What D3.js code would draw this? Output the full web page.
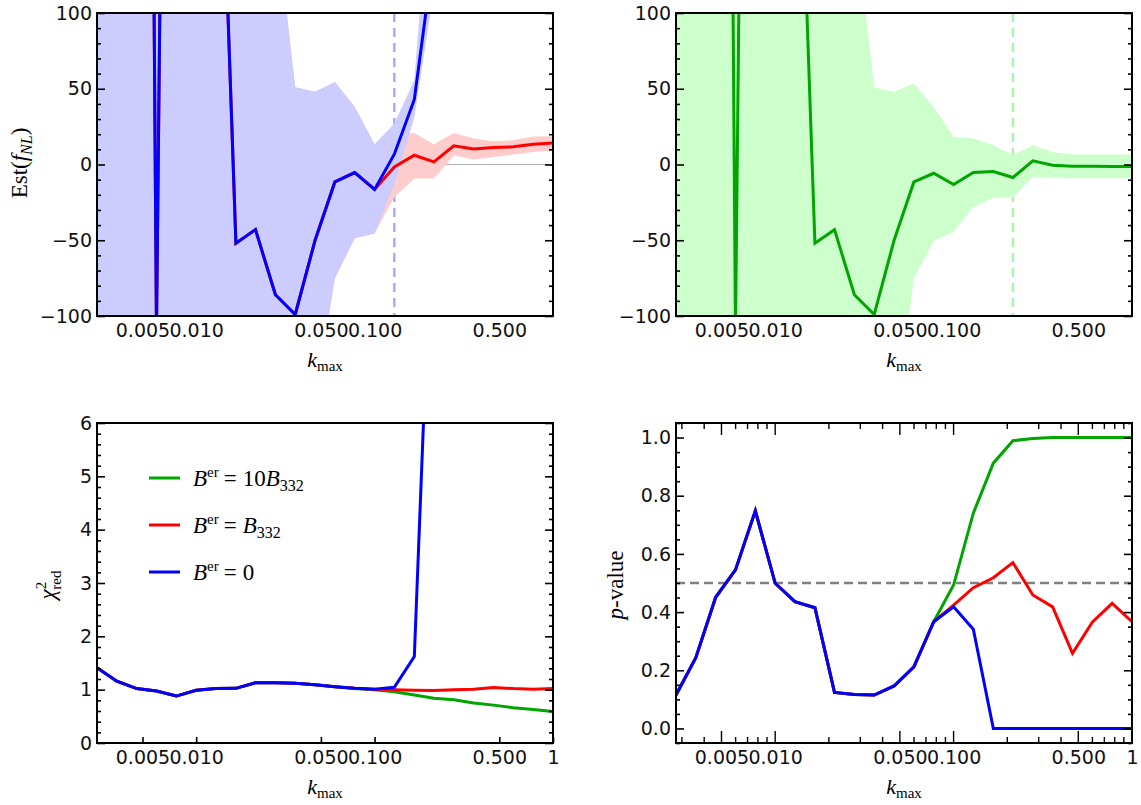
<!DOCTYPE html>
<html><head><meta charset="utf-8">
<script src="https://cdn.jsdelivr.net/npm/d3@7"></script>
<style>body{margin:0;background:#fff}svg{display:block}</style>
</head><body><svg id="c" width="1141" height="805"></svg>
<script>
// ---------- data ----------
const kmax = [0.00278,0.00359,0.00464,0.00599,0.00774,0.0100,0.0129,0.0167,0.0215,0.0278,0.0359,0.0464,
              0.0599,0.0774,0.100,0.129,0.167,0.215,0.278,0.359,0.464,0.599,0.774,1.00];

// Top-left: Est(fNL), B^er = 0 (blue) and B^er = B332 (red)
const estB0 = [900,1400,1640,-110,1140,2000,328,-52,-43,-86,-99,-50,-11.5,-5.3,-16.5,6.8,42.9,140,400,900,2000,3000,4000,5000];
const upB0  = [5000,5000,5000,5000,5000,5000,5000,5000,5000,165,51,48,54.5,38,13.4,27,55.6,220,600,1300,2600,3600,4600,5600];
const loB0  = [-5000,-5000,-5000,-5000,-5000,-5000,-5000,-5000,-5000,-500,-250,-156,-75,-48.7,-45.5,-13,31,115,250,600,1500,2500,3500,4500];
const estB1 = [900,1400,1640,-110,1140,2000,328,-52,-43,-86,-99,-50,-11.5,-5.3,-16.5,-1.6,6.1,1.7,12.3,10.3,11.2,11.7,13.4,14.2];
const upB1  = [5000,5000,5000,5000,5000,5000,5000,5000,5000,165,51,48,54.5,38,13.4,20,20.8,13.4,20.8,17.1,15.4,16,18.5,18.7];
const loB1  = [-5000,-5000,-5000,-5000,-5000,-5000,-5000,-5000,-5000,-500,-250,-156,-75,-48.7,-45.5,-21.5,-9.2,-9.2,6.1,3.3,5,6.6,8.3,9];
// Top-right: B^er = 10 B332 (green)
const estB10 = [900,1400,1640,-110,1140,2000,328,-52,-43,-86,-99,-50,-11.5,-5.8,-13.2,-5.3,-4.6,-8.6,2.4,-0.5,-1.1,-1.2,-1.3,-1.3];
const upB10  = [5000,5000,5000,5000,5000,5000,5000,5000,5000,165,50.8,47.9,53.6,38,18.2,17.1,12.7,6.1,12.7,8.3,6.6,6.6,6.6,6.6];
const loB10  = [-5000,-5000,-5000,-5000,-5000,-5000,-5000,-5000,-5000,-500,-250,-180,-75.2,-50.4,-44.4,-28,-22,-22,-8.2,-8.6,-9,-9,-9,-9];

// Bottom-left: reduced chi2
const chiB10 = [1.41,1.16,1.02,0.975,0.88,0.99,1.02,1.025,1.13,1.13,1.12,1.09,1.055,1.02,1.0,0.96,0.9,0.84,0.81,0.75,0.71,0.66,0.63,0.59];
const chiB1  = [1.41,1.16,1.02,0.975,0.88,0.99,1.02,1.025,1.13,1.13,1.12,1.09,1.055,1.025,1.01,1.0,0.99,0.985,1.0,1.01,1.04,1.02,1.01,1.02];
const chiB0  = [1.41,1.16,1.02,0.975,0.88,0.99,1.02,1.025,1.13,1.13,1.12,1.09,1.055,1.025,1.01,1.045,1.62,11,40,80,150,200,250,300];

// Bottom-right: p-value
const pB10 = [0.115,0.243,0.451,0.545,0.748,0.499,0.436,0.415,0.124,0.117,0.115,0.146,0.212,0.367,0.493,0.74,0.912,0.989,0.997,1,1,1,1,1];
const pB1  = [0.115,0.243,0.451,0.545,0.748,0.499,0.436,0.415,0.124,0.117,0.115,0.146,0.212,0.367,0.424,0.484,0.518,0.57,0.459,0.418,0.258,0.365,0.43,0.367];
const pB0  = [0.115,0.243,0.451,0.545,0.748,0.499,0.436,0.415,0.124,0.117,0.115,0.146,0.212,0.367,0.418,0.341,0,0,0,0,0,0,0,0];

// ticks
const xTickVals = [0.005,0.01,0.05,0.1,0.5];
const xTickLabs = ["0.005","0.010","0.050","0.100","0.500"];
const xTickValsB = [0.005,0.01,0.05,0.1,0.5,1];
const xTickLabsB = ["0.005","0.010","0.050","0.100","0.500","1"];
const yEstTicks = [-100,-50,0,50,100];
const yEstLabs = ["\u2212100","\u221250","0","50","100"];
const yChiTicks = [0,1,2,3,4,5,6];
const yPTicks = [0,0.2,0.4,0.6,0.8,1.0];
const yPLabs = ["0.0","0.2","0.4","0.6","0.8","1.0"];
const refK_TL = 0.129, refK_TR = 0.215;
const pThreshold = 0.5;

// ---------- drawing ----------
const svg = d3.select("#c");
const BLUE="#0000ff", RED="#ff0000", GREEN="#00a500";
const TICKFONT = "DejaVu Sans, sans-serif";
const TFS = 19;
const SERIF = "Liberation Serif, DejaVu Serif, serif";
const kDomain = [kmax[0], kmax[kmax.length-1]];

function makePanel(id, box, yDomain) {
  const x = d3.scaleLog().domain(kDomain).range([box.L, box.R]);
  const y = d3.scaleLinear().domain(yDomain).range([box.B, box.T]);
  svg.append("clipPath").attr("id", id).append("rect")
    .attr("x", box.L).attr("y", box.T).attr("width", box.R-box.L).attr("height", box.B-box.T);
  const g = svg.append("g");
  const plot = g.append("g").attr("clip-path", `url(#${id})`);
  return {x, y, g, plot, box};
}
function frame(P){
  P.g.append("rect").attr("x",P.box.L).attr("y",P.box.T).attr("width",P.box.R-P.box.L).attr("height",P.box.B-P.box.T)
   .attr("fill","none").attr("stroke","#000").attr("stroke-width",2);
}
function yAxes(P, major, labels, minor){
  const {x,y,box} = P;
  const left = d3.axisLeft(y).tickValues(major).tickSize(-8).tickPadding(5).tickFormat((d,i)=>labels[i]);
  const gl = P.g.append("g").attr("transform",`translate(${box.L},0)`).call(left);
  const lm = d3.axisLeft(y).tickValues(minor).tickSize(-4).tickFormat("");
  const glm = P.g.append("g").attr("transform",`translate(${box.L},0)`).call(lm);
  const right = d3.axisRight(y).tickValues(major).tickSize(-8).tickFormat("");
  const gr = P.g.append("g").attr("transform",`translate(${box.R},0)`).call(right);
  const rm = d3.axisRight(y).tickValues(minor).tickSize(-4).tickFormat("");
  const grm = P.g.append("g").attr("transform",`translate(${box.R},0)`).call(rm);
  [gl,glm,gr,grm].forEach(a=>{a.select(".domain").remove(); a.selectAll("line").attr("stroke","#000").attr("stroke-width",1.6);});
  gl.selectAll("text").attr("font-family",TICKFONT).attr("font-size",TFS).attr("fill","#111");
}
function xLabels(P, vals, labs, ticks){
  const {x,box} = P;
  const ax = d3.axisBottom(x).tickValues(vals).tickSize(ticks?-6:0).tickPadding(8).tickFormat((d,i)=>labs[i]);
  const ga = P.g.append("g").attr("transform",`translate(0,${box.B})`).call(ax);
  ga.select(".domain").remove();
  ga.selectAll("line").attr("stroke","#000").attr("stroke-width",1.6);
  ga.selectAll("text").attr("font-family",TICKFONT).attr("font-size",TFS).attr("fill","#111");
}
function kTitle(P){
  const t = P.g.append("text").attr("x",(P.box.L+P.box.R)/2).attr("y",P.box.B+51)
    .attr("text-anchor","middle").attr("font-family",SERIF).attr("font-size",22);
  t.append("tspan").attr("font-style","italic").text("k");
  t.append("tspan").attr("font-size",15).attr("dy",4).text("max");
}
function lineOf(P, vals, color, w){
  const ln = d3.line().x((d,i)=>P.x(kmax[i])).y(d=>P.y(d));
  P.plot.append("path").datum(vals).attr("d",ln).attr("fill","none").attr("stroke",color)
    .attr("stroke-width",w||3).attr("stroke-linejoin","miter");
}
function bandOf(P, lo, up, color){
  const ar = d3.area().x((d,i)=>P.x(kmax[i])).y0((d,i)=>P.y(lo[i])).y1((d,i)=>P.y(up[i]));
  P.plot.append("path").datum(kmax).attr("d",ar).attr("fill",color);
}
function vDash(P, k, color){
  P.plot.append("line").attr("x1",P.x(k)).attr("x2",P.x(k)).attr("y1",P.box.T).attr("y2",P.box.B)
    .attr("stroke",color).attr("stroke-width",2.5).attr("stroke-dasharray","9,6");
}
function hLine(P, v, color, w, dash){
  const l = P.plot.append("line").attr("x1",P.box.L).attr("x2",P.box.R).attr("y1",P.y(v)).attr("y2",P.y(v))
    .attr("stroke",color).attr("stroke-width",w);
  if(dash) l.attr("stroke-dasharray",dash);
}
const estMinor = d3.range(-100,101,10).filter(v=>v%50!==0);

// Top-left
const TL = makePanel("cTL",{L:97,R:553,T:13,B:316},[-100,100]);
hLine(TL,0,"#b0b0b0",1.2);
vDash(TL,refK_TL,"#aaaaff");
bandOf(TL,loB1,upB1,"#ffcccc");
bandOf(TL,loB0,upB0,"#ccccff");
lineOf(TL,estB1,RED);
lineOf(TL,estB0,BLUE);
frame(TL); yAxes(TL,yEstTicks,yEstLabs,estMinor); xLabels(TL,xTickVals,xTickLabs,false); kTitle(TL);
{
  const t = TL.g.append("text").attr("transform","translate(27,163) rotate(-90)").attr("text-anchor","middle")
    .attr("font-family",SERIF).attr("font-size",23);
  t.append("tspan").text("Est(");
  t.append("tspan").attr("font-style","italic").text("f");
  t.append("tspan").attr("font-style","italic").attr("font-size",16).attr("dy",5).text("NL");
  t.append("tspan").attr("dy",-5).text(")");
}

// Top-right
const TR = makePanel("cTR",{L:676,R:1132,T:13,B:316},[-100,100]);
hLine(TR,0,"#b0b0b0",1.2);
vDash(TR,refK_TR,"#aaf5aa");
bandOf(TR,loB10,upB10,"#ccffcc");
lineOf(TR,estB10,GREEN);
frame(TR); yAxes(TR,yEstTicks,yEstLabs,estMinor); xLabels(TR,xTickVals,xTickLabs,false); kTitle(TR);

// Bottom-left
const BL = makePanel("cBL",{L:97,R:553,T:423,B:743},[0,6]);
lineOf(BL,chiB10,GREEN);
lineOf(BL,chiB1,RED);
lineOf(BL,chiB0,BLUE);
frame(BL); yAxes(BL,yChiTicks,yChiTicks.map(String),d3.range(0,6.01,0.2).filter(v=>Math.abs(v-Math.round(v))>1e-6));
xLabels(BL,xTickValsB,xTickLabsB,true); kTitle(BL);
{
  const t = BL.g.append("text").attr("transform","translate(55,585) rotate(-90)").attr("text-anchor","middle")
    .attr("font-family",SERIF).attr("font-size",23);
  t.append("tspan").attr("font-style","italic").text("\u03c7");
  t.append("tspan").attr("font-size",15).attr("dy",-9).text("2");
  t.append("tspan").attr("font-size",15).attr("dx",-8).attr("dy",15).text("red");
  // legend
  const items = [["10","B","332",GREEN,478],["","B","332",RED,525],["0","","",BLUE,572]];
  items.forEach(([num,b,sub,col,yy])=>{
    BL.g.append("line").attr("x1",149).attr("x2",180).attr("y1",yy).attr("y2",yy).attr("stroke",col).attr("stroke-width",3);
    const tx = BL.g.append("text").attr("x",193).attr("y",yy+8).attr("font-family",SERIF).attr("font-size",23);
    tx.append("tspan").attr("font-style","italic").text("B");
    tx.append("tspan").attr("font-size",15).attr("dy",-9).text("er");
    tx.append("tspan").attr("dy",9).attr("dx",5).text("=");
    if(num) tx.append("tspan").attr("dx",6).text(num);
    if(b){
      tx.append("tspan").attr("dx",num?0:6).attr("font-style","italic").text(b);
      tx.append("tspan").attr("font-size",16).attr("dy",5).text(sub);
    }
  });
}

// Bottom-right
const BR = makePanel("cBR",{L:676,R:1132,T:423,B:743},[-0.05,1.05]);
hLine(BR,pThreshold,"#808080",2.5,"9,5");
lineOf(BR,pB10,GREEN);
lineOf(BR,pB1,RED);
lineOf(BR,pB0,BLUE);
frame(BR); yAxes(BR,yPTicks,yPLabs,d3.range(-0.05,1.051,0.05).filter(v=>Math.abs(v*5-Math.round(v*5))>1e-6));
{
  const minor = [];
  [0.001,0.01,0.1].forEach(e=>{for(let m=1;m<=9;m++){const v=+(m*e).toPrecision(3); if(v>=kDomain[0]&&v<=1&&!xTickValsB.includes(v)) minor.push(v);}});
  const bx = BR.x;
  const gT = BR.g.append("g");
  xTickValsB.forEach(v=>{
    gT.append("line").attr("x1",bx(v)).attr("x2",bx(v)).attr("y1",BR.box.T).attr("y2",BR.box.T+12);
    gT.append("line").attr("x1",bx(v)).attr("x2",bx(v)).attr("y1",BR.box.B).attr("y2",BR.box.B-12);
  });
  minor.forEach(v=>{
    gT.append("line").attr("x1",bx(v)).attr("x2",bx(v)).attr("y1",BR.box.T).attr("y2",BR.box.T+6);
    gT.append("line").attr("x1",bx(v)).attr("x2",bx(v)).attr("y1",BR.box.B).attr("y2",BR.box.B-6);
  });
  gT.selectAll("line").attr("stroke","#000").attr("stroke-width",1.4);
}
xLabels(BR,xTickValsB,xTickLabsB,false); kTitle(BR);
{
  const t = BR.g.append("text").attr("transform","translate(623,585) rotate(-90)").attr("text-anchor","middle")
    .attr("font-family",SERIF).attr("font-size",23);
  t.append("tspan").attr("font-style","italic").text("p");
  t.append("tspan").text("-value");
}
</script></body></html>
